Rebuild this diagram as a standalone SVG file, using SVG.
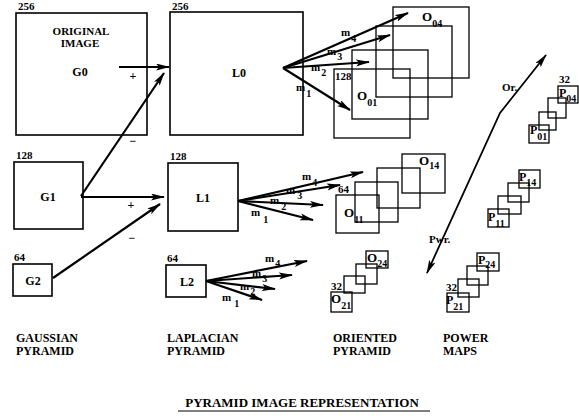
<svg xmlns="http://www.w3.org/2000/svg" width="579" height="416" viewBox="0 0 579 416">
<style>
.bx{fill:none;stroke:#000;stroke-width:1.6}
.sb{fill:none;stroke:#000;stroke-width:1.3}
.t{font-family:"Liberation Serif","Times New Roman",serif;font-weight:bold;fill:#000}
.n{font-size:11px}
.lb{font-size:12px}
.big{font-size:13px}
.sub{font-size:10px}
.c{stroke:#000;stroke-width:2.2;fill:none;marker-end:url(#ah)}
.c2{stroke:#000;stroke-width:1.8;fill:none;marker-end:url(#ah);marker-start:url(#ah)}
.ln{stroke:#000;stroke-width:1.2}
</style>
<defs>
<marker id="ah" markerUnits="userSpaceOnUse" markerWidth="14" markerHeight="8" refX="13" refY="3.5" orient="auto-start-reverse">
<path d="M0,0 L14,3.5 L0,7 L3,3.5 Z" fill="#000"/>
</marker>
</defs>

<g id="G0">
<rect class="bx" x="16" y="13" width="131" height="122"/>
<text class="t n" x="18" y="10">256</text>
<text class="t n" x="81" y="35" text-anchor="middle">ORIGINAL</text>
<text class="t n" x="80" y="47" text-anchor="middle">IMAGE</text>
<text class="t lb" x="80" y="76" text-anchor="middle">G0</text>
</g>
<g id="G1">
<rect class="bx" x="14" y="162" width="69" height="67"/>
<text class="t n" x="16" y="159">128</text>
<text class="t lb" x="48" y="201" text-anchor="middle">G1</text>
</g>
<g id="G2">
<rect class="bx" x="13" y="264" width="39" height="32"/>
<text class="t n" x="14" y="261">64</text>
<text class="t lb" x="33" y="285" text-anchor="middle">G2</text>
</g>

<g id="L0">
<rect class="bx" x="170" y="12" width="133" height="123"/>
<text class="t n" x="172" y="10">256</text>
<text class="t lb" x="239" y="77" text-anchor="middle">L0</text>
</g>
<g id="L1">
<rect class="bx" x="168" y="163" width="70" height="68"/>
<text class="t n" x="170" y="160">128</text>
<text class="t lb" x="203" y="202" text-anchor="middle">L1</text>
</g>
<g id="L2">
<rect class="bx" x="166" y="265" width="40" height="32"/>
<text class="t n" x="167" y="262">64</text>
<text class="t lb" x="187" y="286" text-anchor="middle">L2</text>
</g>

<g id="O0">
<rect class="sb" x="393" y="7" width="76" height="71"/>
<rect class="sb" x="376" y="26" width="76" height="71"/>
<rect class="sb" x="352" y="50" width="76" height="69"/>
<rect class="sb" x="334" y="69" width="76" height="69"/>
<text class="t n" x="335" y="80">128</text>
<text class="t big" x="357" y="100">O<tspan class="sub" dy="6">01</tspan></text>
<text class="t big" x="422" y="21">O<tspan class="sub" dy="6">04</tspan></text>
</g>
<g id="O1">
<rect class="sb" x="402" y="154" width="43" height="39"/>
<rect class="sb" x="377" y="168" width="43" height="40"/>
<rect class="sb" x="355" y="182" width="43" height="40"/>
<rect class="sb" x="336" y="195" width="43" height="38"/>
<text class="t n" x="338" y="193">64</text>
<text class="t big" x="344" y="217">O<tspan class="sub" dy="6">11</tspan></text>
<text class="t big" x="419" y="165">O<tspan class="sub" dy="4">14</tspan></text>
</g>
<g id="O2">
<rect class="sb" x="366" y="251" width="22" height="17"/>
<rect class="sb" x="356" y="264" width="21" height="20"/>
<rect class="sb" x="344" y="276" width="21" height="17"/>
<rect class="sb" x="331" y="292" width="21" height="20"/>
<text class="t n" x="331" y="290">32</text>
<text class="t big" x="331" y="303">O<tspan class="sub" dy="6">21</tspan></text>
<text class="t big" x="367" y="262">O<tspan class="sub" dy="5">24</tspan></text>
</g>

<g id="P0">
<rect class="sb" x="558" y="86" width="20" height="17"/>
<rect class="sb" x="548" y="98" width="18" height="20"/>
<rect class="sb" x="539" y="112" width="17" height="18"/>
<rect class="sb" x="529" y="125" width="20" height="18"/>
<text class="t n" x="559" y="83">32</text>
<text class="t lb" x="559" y="97">P<tspan class="sub" dy="5">04</tspan></text>
<text class="t lb" x="530" y="134">P<tspan class="sub" dy="6">01</tspan></text>
</g>
<g id="P1">
<rect class="sb" x="519" y="170" width="21" height="18"/>
<rect class="sb" x="508" y="183" width="21" height="19"/>
<rect class="sb" x="498" y="196" width="23" height="18"/>
<rect class="sb" x="488" y="209" width="21" height="18"/>
<text class="t lb" x="519" y="181">P<tspan class="sub" dy="5">14</tspan></text>
<text class="t lb" x="488" y="221">P<tspan class="sub" dy="6">11</tspan></text>
</g>
<g id="P2">
<rect class="sb" x="477" y="253" width="22" height="18"/>
<rect class="sb" x="467" y="266" width="21" height="19"/>
<rect class="sb" x="458" y="279" width="21" height="18"/>
<rect class="sb" x="447" y="293" width="22" height="19"/>
<text class="t n" x="446" y="291">32</text>
<text class="t lb" x="478" y="264">P<tspan class="sub" dy="4">24</tspan></text>
<text class="t lb" x="446" y="304">P<tspan class="sub" dy="6">21</tspan></text>
</g>

<g id="connectors">
<line class="c" x1="119" y1="67" x2="169" y2="67"/>
<line class="c" x1="81" y1="196" x2="164" y2="73"/>
<line class="c" x1="81" y1="197" x2="164" y2="197"/>
<line class="c" x1="53" y1="278" x2="160" y2="204"/>
<line class="c" x1="283" y1="68" x2="408" y2="13"/>
<line class="c" x1="283" y1="68" x2="390" y2="35"/>
<line class="c" x1="283" y1="68" x2="369" y2="62"/>
<line class="c" x1="283" y1="68" x2="350" y2="110"/>
<line class="c" x1="238" y1="201" x2="363" y2="172"/>
<line class="c" x1="238" y1="201" x2="340" y2="185"/>
<line class="c" x1="238" y1="201" x2="323" y2="205"/>
<line class="c" x1="238" y1="201" x2="313" y2="220"/>
<line class="c" x1="206" y1="281" x2="307" y2="261"/>
<line class="c" x1="206" y1="281" x2="292" y2="275"/>
<line class="c" x1="206" y1="281" x2="275" y2="289"/>
<line class="c" x1="206" y1="281" x2="262" y2="300"/>
<polyline class="c2" points="427,273 500,113 546,55"/>
</g>

<g id="connector-labels">
<text class="t lb" x="133" y="80" text-anchor="middle">+</text>
<text class="t lb" x="133" y="145" text-anchor="middle">−</text>
<text class="t lb" x="131" y="209" text-anchor="middle">+</text>
<text class="t lb" x="132" y="242" text-anchor="middle">−</text>
<text class="t n" x="341" y="36">m<tspan class="sub" dx="1" dy="6">4</tspan></text>
<text class="t n" x="327" y="55">m<tspan class="sub" dx="1" dy="5">3</tspan></text>
<text class="t n" x="311" y="71">m<tspan class="sub" dx="1" dy="5">2</tspan></text>
<text class="t n" x="296" y="91">m<tspan class="sub" dx="1" dy="6">1</tspan></text>
<text class="t n" x="302" y="180">m<tspan class="sub" dx="1" dy="6">4</tspan></text>
<text class="t n" x="286" y="194">m<tspan class="sub" dx="2" dy="5">3</tspan></text>
<text class="t n" x="270" y="204">m<tspan class="sub" dx="2" dy="6">2</tspan></text>
<text class="t n" x="251" y="216">m<tspan class="sub" dx="3" dy="7">1</tspan></text>
<text class="t n" x="265" y="262">m<tspan class="sub" dx="1" dy="5">4</tspan></text>
<text class="t n" x="252" y="277">m<tspan class="sub" dx="1" dy="5">3</tspan></text>
<text class="t n" x="240" y="290">m<tspan class="sub" dx="1" dy="5">2</tspan></text>
<text class="t n" x="222" y="301">m<tspan class="sub" dx="3" dy="6">1</tspan></text>
<text class="t n" x="502" y="91">Or.</text>
<text class="t n" x="429" y="243">Pwr.</text>
</g>

<g id="captions">
<text class="t lb" x="16" y="342">GAUSSIAN</text>
<text class="t lb" x="16" y="355">PYRAMID</text>
<text class="t lb" x="167" y="342">LAPLACIAN</text>
<text class="t lb" x="167" y="355">PYRAMID</text>
<text class="t lb" x="333" y="342">ORIENTED</text>
<text class="t lb" x="333" y="355">PYRAMID</text>
<text class="t lb" x="443" y="342">POWER</text>
<text class="t lb" x="443" y="355">MAPS</text>
<text class="t" font-size="13" x="302" y="407" text-anchor="middle">PYRAMID IMAGE REPRESENTATION</text>
<line class="ln" x1="178" y1="411" x2="430" y2="411"/>
</g>
</svg>
